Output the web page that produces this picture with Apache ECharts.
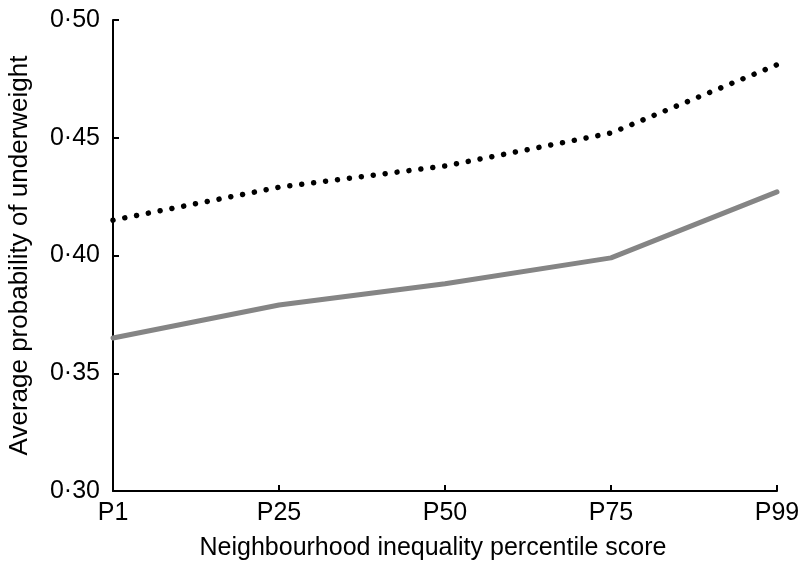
<!DOCTYPE html>
<html><head><meta charset="utf-8">
<script src="https://cdn.jsdelivr.net/npm/echarts@6/dist/echarts.min.js"></script>
<style>html,body{margin:0;padding:0;background:#fff}#c{width:798px;height:571px}</style>
</head><body><div id="c"></div>
<script>
var categories = ['P1', 'P25', 'P50', 'P75', 'P99'];
var dottedValues = [0.415, 0.429, 0.438, 0.452, 0.481];
var solidValues = [0.365, 0.379, 0.388, 0.399, 0.427];
var yTicks = [0.30, 0.35, 0.40, 0.45, 0.50];
var xTitle = 'Neighbourhood inequality percentile score';
var yTitle = 'Average probability of underweight';

var font = '"Liberation Sans", Arial, Helvetica, sans-serif';
var chart = echarts.init(document.getElementById('c'));
chart.setOption({
  animation: false,
  grid: {left: 113, right: 21, top: 20, bottom: 80, containLabel: false, outerBoundsMode: 'none'},
  xAxis: {
    type: 'category', data: categories, boundaryGap: false,
    name: xTitle, nameLocation: 'middle', nameGap: 45,
    nameTextStyle: {fontFamily: font, fontSize: 25, color: '#000', padding: [0, 24, 0, 0]},
    axisLine: {lineStyle: {color: '#000', width: 2}},
    axisTick: {show: true, inside: true, length: 6, alignWithLabel: true, lineStyle: {color: '#000', width: 2}},
    axisLabel: {fontFamily: font, fontSize: 25, color: '#000', margin: 10},
    splitLine: {show: false}
  },
  yAxis: {
    type: 'value', min: yTicks[0], max: yTicks[yTicks.length - 1], interval: 0.05,
    name: yTitle, nameLocation: 'middle', nameGap: 80,
    nameTextStyle: {fontFamily: font, fontSize: 26, color: '#000'},
    axisLine: {show: true, lineStyle: {color: '#000', width: 2}},
    axisTick: {show: true, inside: true, length: 6, lineStyle: {color: '#000', width: 2}},
    axisLabel: {fontFamily: font, fontSize: 25, color: '#000', margin: 13,
      formatter: function (v) { return v.toFixed(2).replace('.', '\u00B7'); }},
    splitLine: {show: false}
  },
  series: [
    {type: 'line', data: dottedValues, symbol: 'none',
      lineStyle: {color: '#000', width: 5.5, type: [0.01, 12], cap: 'round'}},
    {type: 'line', data: solidValues, symbol: 'none',
      lineStyle: {color: '#858585', width: 5, cap: 'round', join: 'round'}}
  ]
});
</script></body></html>
